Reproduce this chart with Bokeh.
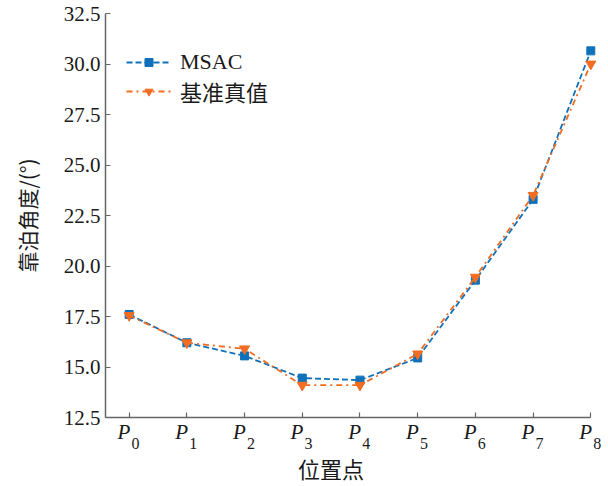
from bokeh.plotting import figure
from bokeh.models import (Legend, LegendItem, FixedTicker, NumeralTickFormatter, Range1d,
                          LinearAxis, CustomJSTickFormatter)
from bokeh.embed import file_html
from bokeh.resources import INLINE

positions = ["0", "1", "2", "3", "4", "5", "6", "7", "8"]
msac = [17.6, 16.2, 15.55, 14.45, 14.35, 15.45, 19.3, 23.3, 30.65]
truth = [17.55, 16.2, 15.9, 14.1, 14.1, 15.65, 19.45, 23.5, 30.0]
y_ticks = [12.5, 15.0, 17.5, 20.0, 22.5, 25.0, 27.5, 30.0, 32.5]

BLUE = "#0f71b9"
ORANGE = "#f26c21"
TXT = "#1a1a1a"
AXC = "#666666"
SERIF = "Liberation Serif"
MIXED = "Liberation Serif, Noto Sans CJK SC"
CJK = "Noto Sans CJK SC"

xs = list(range(len(positions)))
x0 = -0.41

p = figure(width=608, height=486, output_backend="svg", toolbar_location=None,
           x_range=Range1d(x0, 8.168), y_range=Range1d(12.5, 32.5),
           min_border_left=105, min_border_right=8, min_border_top=13, min_border_bottom=68)
p.outline_line_color = None
p.xgrid.grid_line_color = None
p.ygrid.grid_line_color = None

for ax in (p.xaxis[0], p.yaxis[0]):
    ax.axis_line_color = AXC
    ax.axis_line_width = 1.5
    ax.major_tick_line_color = AXC
    ax.major_tick_line_width = 1.2
    ax.major_tick_in = 5
    ax.major_tick_out = 0
    ax.minor_tick_line_color = None
    ax.major_label_text_color = TXT

# main x axis: line, ticks and italic P (nudged left with trailing no-break spaces)
p.xaxis.ticker = FixedTicker(ticks=xs)
p.xaxis.major_label_overrides = {i: "P\u00a0\u00a0" for i in xs}
p.xaxis.major_label_text_font = SERIF
p.xaxis.major_label_text_font_size = "21px"
p.xaxis.major_label_text_font_style = "italic"
p.xaxis.major_label_standoff = 2
p.xaxis.bounds = (x0, 8)

p.yaxis.ticker = FixedTicker(ticks=y_ticks)
p.yaxis.formatter = NumeralTickFormatter(format="0.0")
p.yaxis.major_label_text_font = SERIF
p.yaxis.major_label_text_font_size = "21px"
p.yaxis.major_label_standoff = 5
p.yaxis.axis_label = "靠泊角度/(°)"
p.yaxis.axis_label_text_font = CJK
p.yaxis.axis_label_text_font_size = "21px"
p.yaxis.axis_label_text_font_style = "normal"
p.yaxis.axis_label_text_color = TXT
p.yaxis.axis_label_standoff = 19

# subscript digits of the position labels
d = LinearAxis(ticker=FixedTicker(ticks=[x + 0.11 for x in xs]),
               formatter=CustomJSTickFormatter(code="return String(Math.round(tick - 0.11));"))
d.axis_line_color = None
d.major_tick_line_color = None
d.minor_tick_line_color = None
d.major_label_text_font = SERIF
d.major_label_text_font_size = "16px"
d.major_label_text_color = TXT
d.major_label_standoff = -15
d.axis_label = "位置点\u3000\u3000"
d.axis_label_text_font = CJK
d.axis_label_text_font_size = "22px"
d.axis_label_text_font_style = "normal"
d.axis_label_text_color = TXT
d.axis_label_standoff = 0
p.add_layout(d, "below")

l1 = p.line(xs, msac, line_color=BLUE, line_width=1.8, line_dash="6 3")
s1 = p.scatter(xs, msac, marker="square", size=8, fill_color=BLUE, line_color=BLUE)
l2 = p.line(xs, truth, line_color=ORANGE, line_width=1.8, line_dash="dashdot")
s2 = p.scatter(xs, truth, marker="inverted_triangle", size=10, fill_color=ORANGE, line_color=ORANGE)

legend = Legend(items=[LegendItem(label="MSAC", renderers=[l1, s1]),
                       LegendItem(label="基准真值", renderers=[l2, s2])],
                location=(21, 310), orientation="vertical")
legend.border_line_color = None
legend.background_fill_alpha = 0
legend.padding = 0
legend.margin = 0
legend.spacing = 0
legend.glyph_width = 45
legend.glyph_height = 20
legend.label_height = 20
legend.label_standoff = 9
legend.label_text_font = MIXED
legend.label_text_font_size = "22px"
legend.label_text_color = TXT
p.add_layout(legend)

open("out.html", "w").write(file_html(p, INLINE))
